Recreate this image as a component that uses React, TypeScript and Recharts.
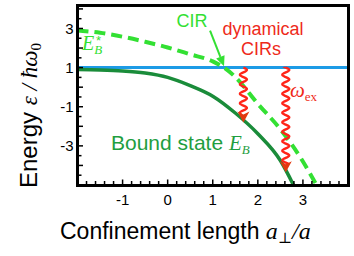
import React from "react";
import { LineChart, Line, XAxis, YAxis, ReferenceLine } from "recharts";

// bound state E_B and excited branch E_B* vs confinement length a_perp/a
const boundX = [-2, -1.5, -1, -0.5, 0, 0.5, 1, 1.5, 2, 2.5, 2.79];
const boundE = [0.9, 0.88, 0.83, 0.72, 0.5, 0.08, -0.46, -1.32, -2.38, -3.75, -5];
const excitedX = [-2, -1.5, -1, -0.5, 0, 0.5, 1, 1.25, 1.5, 2, 2.5, 3, 3.3];
const excitedE = [2.9, 2.78, 2.58, 2.32, 2.03, 1.68, 1.32, 1.0, 0.52, -0.85, -2.15, -3.8, -5];
const thresholdE = 1;

// dynamical CIR arrows (omega_ex)
const excitationX = [1.68, 2.62];
const excitationTo = [-1.8, -4.35];

// CIR pointer
const cirFrom = { x: 0.94, y: 2.89 };
const cirTo = { x: 1.25, y: 1.07 };

const xLabels = [-1, 0, 1, 2, 3];
const yLabels = [3, 1, -1, -3];

const xDomain: [number, number] = [-2, 4];
const yDomain: [number, number] = [-5, 4.2];
const xTicks = Array.from({ length: 31 }, (_, i) => Math.round((-2 + i * 0.2) * 10) / 10);
const yTicks = Array.from({ length: 19 }, (_, i) => -5 + i * 0.5);

const boundData = boundX.map((x, i) => ({ x, e: boundE[i] }));
const excitedData = excitedX.map((x, i) => ({ x, e: excitedE[i] }));

const SANS = "'Liberation Sans', Arial, Helvetica, sans-serif";
const SERIF = "'Liberation Serif', 'DejaVu Serif', serif";
const DARK_GREEN = "#1a8c3a";
const LIGHT_GREEN = "#33e033";
const BLUE = "#1d9be6";
const RED = "#ff2418";
const RED_HEAD = "#e2380f";
const INK = "#000000";

const W = 354;
const H = 256;
const M = { top: 5, right: 6, bottom: 41, left: 37.5 };
const Y_W = 40;
const X_H = 30;

const isInt = (v: number) => Math.abs(v - Math.round(v)) < 1e-6;

const XTick = (props: any) => {
  const { x, y, payload } = props;
  const v = payload.value as number;
  const labeled = xLabels.some((l) => Math.abs(l - v) < 1e-6);
  const len = isInt(v) ? 5.5 : 4;
  return (
    <g>
      <line x1={x} x2={x} y1={y} y2={y - len} stroke={INK} strokeWidth={1.5} />
      {labeled && (
        <text x={x} y={y + 20} textAnchor="middle" fontSize={15} fontFamily={SANS} fill="#000">
          {Math.round(v)}
        </text>
      )}
    </g>
  );
};

const YTick = (props: any) => {
  const { x, y, payload } = props;
  const v = payload.value as number;
  const labeled = yLabels.some((l) => Math.abs(l - v) < 1e-6);
  const len = isInt(v) ? 5.5 : 4;
  return (
    <g>
      <line x1={x} x2={x + len} y1={y} y2={y} stroke={INK} strokeWidth={1.5} />
      {labeled && (
        <text x={x - 4} y={y + 5.5} textAnchor="end" fontSize={15} fontFamily={SANS} fill="#000">
          {Math.round(v)}
        </text>
      )}
    </g>
  );
};

// wavy downward arrow between two scaled points
const WavyArrow = (props: any) => {
  const { x1, y1, y2 } = props;
  const head = 10;
  const amp = 3.5;
  const period = 9.5;
  const end = y2 - head + 2;
  let d = `M ${x1} ${y1}`;
  for (let yy = y1; yy <= end; yy += 0.5) {
    const xx = x1 + amp * Math.sin((2 * Math.PI * (yy - y1)) / period);
    d += ` L ${xx.toFixed(2)} ${yy.toFixed(2)}`;
  }
  return (
    <g>
      <path d={d} fill="none" stroke={RED} strokeWidth={2.3} />
      <polygon
        points={`${x1},${y2} ${x1 - 6},${y2 - 11} ${x1},${y2 - 8} ${x1 + 6},${y2 - 11}`}
        fill={RED_HEAD}
      />
    </g>
  );
};

const StraightArrow = (props: any) => {
  const { x1, y1, x2, y2 } = props;
  const ang = Math.atan2(y2 - y1, x2 - x1);
  const L = 10;
  const hw = 4.5;
  const bx = x2 - L * Math.cos(ang);
  const by = y2 - L * Math.sin(ang);
  const px = -Math.sin(ang) * hw;
  const py = Math.cos(ang) * hw;
  return (
    <g>
      <line x1={x1} y1={y1} x2={bx} y2={by} stroke={LIGHT_GREEN} strokeWidth={2} />
      <polygon points={`${x2},${y2} ${bx + px},${by + py} ${bx - px},${by - py}`} fill={LIGHT_GREEN} />
    </g>
  );
};

export default function App() {
  const px = M.left + Y_W;
  const py = M.top;
  const pw = W - px - M.right;
  const ph = H - M.top - M.bottom - X_H;
  const t = 3;
  return (
    <div style={{ position: "fixed", left: 0, top: 0, width: W, height: H, background: "#fff" }}>
      <LineChart width={W} height={H} margin={M}>
        <XAxis
          dataKey="x"
          type="number"
          domain={xDomain}
          ticks={xTicks}
          interval={0}
          tickSize={0}
          tickMargin={0}
          axisLine={false}
          tickLine={false}
          tick={<XTick />}
          height={X_H}
          allowDataOverflow
        />
        <YAxis
          type="number"
          domain={yDomain}
          ticks={yTicks}
          interval={0}
          tickSize={0}
          tickMargin={0}
          axisLine={false}
          tickLine={false}
          tick={<YTick />}
          width={Y_W}
          allowDataOverflow
        />
        <ReferenceLine y={thresholdE} stroke={BLUE} strokeWidth={3} />
        <Line
          data={excitedData}
          dataKey="e"
          type="monotone"
          stroke={LIGHT_GREEN}
          strokeWidth={4}
          strokeDasharray="11 6"
          dot={false}
          activeDot={false}
          isAnimationActive={false}
        />
        <Line
          data={boundData}
          dataKey="e"
          type="monotone"
          stroke={DARK_GREEN}
          strokeWidth={3.5}
          dot={false}
          activeDot={false}
          isAnimationActive={false}
        />
        {excitationX.map((x, i) => (
          <ReferenceLine
            key={i}
            segment={[
              { x, y: thresholdE },
              { x, y: excitationTo[i] },
            ]}
            shape={<WavyArrow />}
          />
        ))}
        <ReferenceLine segment={[cirFrom, cirTo]} shape={<StraightArrow />} />
      </LineChart>
      {/* plot frame */}
      <div
        style={{
          position: "absolute",
          left: px - t / 2,
          top: py - t / 2,
          width: pw + t,
          height: ph + t,
          boxSizing: "border-box",
          border: `${t}px solid #000`,
          pointerEvents: "none",
        }}
      />
      <svg width={W} height={H} style={{ position: "absolute", left: 0, top: 0, pointerEvents: "none" }}>
        <text x={192} y={27} textAnchor="middle" fontSize={18} fontFamily={SANS} fill={LIGHT_GREEN}>
          CIR
        </text>
        <text x={263} y={35} textAnchor="middle" fontSize={18} fontFamily={SANS} fill="#ee2a1a">
          dynamical
        </text>
        <text x={261} y={55} textAnchor="middle" fontSize={18} fontFamily={SANS} fill="#ee2a1a">
          CIRs
        </text>
        <text x={290} y={97} fontFamily={SERIF} fill="#f02a1a">
          <tspan fontSize={21} fontStyle="italic">ω</tspan>
          <tspan fontSize={13} dy={4}>ex</tspan>
        </text>
        <text x={82} y={50} fontFamily={SERIF} fill={LIGHT_GREEN}>
          <tspan fontSize={20} fontStyle="italic">E</tspan>
          <tspan fontSize={13} fontStyle="italic" dy={4}>B</tspan>
        </text>
        <text x={96} y={45} fontFamily={SANS} fontSize={13} fill={LIGHT_GREEN}>
          *
        </text>
        <text x={111} y={149.5} fill="#1f9e3f">
          <tspan fontSize={21} fontFamily={SANS}>Bound state </tspan>
          <tspan fontSize={21} fontFamily={SERIF} fontStyle="italic">E</tspan>
          <tspan fontSize={13} fontFamily={SERIF} fontStyle="italic" dy={4}>B</tspan>
        </text>
        <text x={60} y={238.5} fill="#000">
          <tspan fontSize={23} fontFamily={SANS}>Confinement length </tspan>
          <tspan fontSize={24} fontFamily={SERIF} fontStyle="italic">a</tspan>
          <tspan fontSize={15} fontFamily={SERIF} dy={4}>⊥</tspan>
          <tspan fontSize={24} fontFamily={SERIF} fontStyle="italic" dy={-4}>/a</tspan>
        </text>
        <text transform="translate(37,188) rotate(-90)" fill="#000">
          <tspan fontSize={24} fontFamily={SANS}>Energy </tspan>
          <tspan fontSize={23} fontFamily={SERIF} fontStyle="italic">ε / ħω</tspan>
          <tspan fontSize={15} fontFamily={SERIF} dy={4}>0</tspan>
        </text>
      </svg>
    </div>
  );
}
